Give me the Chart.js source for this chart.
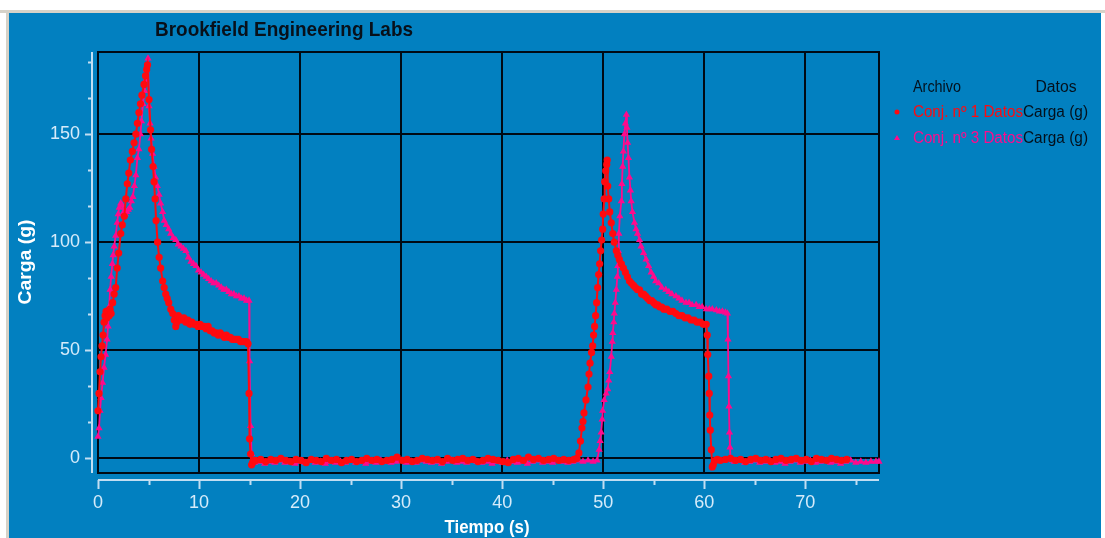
<!DOCTYPE html>
<html lang="es">
<head>
<meta charset="UTF-8">
<title>Brookfield Engineering Labs</title>
<style>
  html, body { margin: 0; padding: 0; background: #ffffff; }
  canvas { display: block; }
</style>
</head>
<body>
<canvas id="cargaChart" width="1105" height="538"></canvas>
<script src="https://cdn.jsdelivr.net/npm/chart.js"></script>
<script>
// Conj. nº 1 - tiempo (s) y carga (g)
const tiempo1 = [
  0.0, 0.1, 0.2, 0.3, 0.4, 0.5, 0.6, 0.7, 0.8, 0.9, 1.0, 1.1, 1.2, 1.3, 1.45, 1.6, 1.75, 1.9, 2.05, 2.25,
  2.4, 2.6, 2.75, 2.9, 3.05, 3.2, 3.4, 3.57, 3.75, 3.9, 4.05, 4.2, 4.35, 4.55, 4.7, 4.82, 4.9, 5.05, 5.2, 5.3,
  5.45, 5.55, 5.65, 5.75, 5.9, 6.05, 6.2, 6.4, 6.55, 6.7, 6.85, 7.0, 7.2, 7.4, 7.55, 7.7, 7.8, 7.95, 8.1, 8.3,
  8.5, 8.7, 8.9, 9.1, 9.3, 9.5, 9.7, 9.9, 10.1, 10.3, 10.5, 10.7, 10.9, 11.1, 11.3, 11.5, 11.7, 11.9, 12.1, 12.3,
  12.5, 12.7, 12.9, 13.1, 13.3, 13.5, 13.7, 13.9, 14.1, 14.3, 14.5, 14.7, 14.85, 14.95, 15.0, 15.1, 15.2, 15.3, 15.45,
  15.6, 16.1, 16.6, 17.1, 17.6, 18.1, 18.6, 19.1, 19.6, 20.1, 20.6, 21.1, 21.6, 22.1, 22.6, 23.1, 23.6, 24.1, 24.6, 25.1,
  25.6, 26.1, 26.6, 27.1, 27.6, 28.1, 28.6, 29.1, 29.6, 30.1, 30.6, 31.1, 31.6, 32.1, 32.6, 33.1, 33.6, 34.1, 34.6, 35.1,
  35.6, 36.1, 36.6, 37.1, 37.6, 38.1, 38.6, 39.1, 39.6, 40.1, 40.6, 41.1, 41.6, 42.1, 42.6, 43.1, 43.6, 44.1, 44.6, 45.1,
  45.6, 46.1, 46.6, 47.1, 47.4, 47.6, 47.75, 47.9, 48.0, 48.1, 48.3, 48.5, 48.6, 48.7, 48.85, 48.96, 49.05, 49.15, 49.25, 49.35,
  49.45, 49.55, 49.65, 49.75, 49.85, 49.95, 50.0, 50.1, 50.15, 50.25, 50.35, 50.4, 50.45, 50.55, 50.65, 50.8, 50.95, 51.1, 51.3, 51.45,
  51.6, 51.8, 52.0, 52.2, 52.4, 52.6, 52.8, 53.0, 53.2, 53.4, 53.6, 53.8, 54.0, 54.2, 54.4, 54.6, 54.8, 55.0, 55.2, 55.4,
  55.6, 55.8, 56.0, 56.3, 56.6, 56.9, 57.2, 57.5, 57.8, 58.1, 58.4, 58.7, 59.0, 59.3, 59.6, 59.9, 60.2, 60.3, 60.35, 60.45,
  60.5, 60.55, 60.6, 60.7, 60.8, 60.9, 61.1, 61.3,
  61.6, 62.1, 62.6, 63.1, 63.6, 64.1, 64.6, 65.1, 65.6, 66.1, 66.6, 67.1, 67.6, 68.1, 68.6, 69.1, 69.6, 70.1, 70.6, 71.1,
  71.6, 72.1, 72.6, 73.1, 73.6, 74.1
];
const carga1 = [
  22, 30, 40, 47, 52, 57, 63, 66, 68, 65, 68, 66, 69, 67, 72, 76, 79, 88, 95, 104,
  108, 112, 120, 127, 132, 138, 142, 146, 150, 155, 160, 164, 168, 173, 177, 180, 182, 166, 152, 143,
  135, 128, 120, 110, 100, 93, 88, 82, 79, 76, 74, 72, 69, 67, 64, 61, 63, 66, 65, 64,
  65, 63, 64, 62, 63, 62, 62, 61, 62, 61, 61, 60, 61, 59, 59, 58, 58, 57, 58, 57,
  56, 57, 56, 56, 55, 55, 55, 55, 54, 54, 54, 54, 53, 30, 9, 2, -3, -2, -1,
  -1, -0.5, -1.5, -0.5, -1, 0, -1, -1.5, -0.5, -1, -2, -0.5, -1, -1.5, 0, -1, -0.5, -2, -1, -0.5,
  -1.5, -1, 0, -1, -0.5, -1.5, -1, -0.5, 0.5, -1, -0.5, -1.5, -1, 0, -0.5, -1, -0.5, -1.5, 0, -1,
  -0.5, 0, -1, -0.5, -1.5, -1, 0, -0.5, -1, -1.5, -2, -0.5, 0, -1, 0.5, -0.5, 0, -1, -0.5, 0,
  -1, -0.5, -1, -0.5, 0, 2.5, 8, 14, 17, 21, 27, 33, 39, 44, 49, 52, 57, 61, 66, 72,
  79, 85, 90, 96, 101, 106, 113, 120, 128, 133, 136, 138, 126, 120, 114, 109, 104, 100, 96, 94,
  92, 90, 88, 86, 84, 82, 81, 80, 79, 78, 78, 76, 76, 75, 74, 73, 73, 72, 71, 71,
  70, 70, 69, 69, 68, 68, 67, 66, 66, 65, 65, 64, 64, 63, 63, 62, 62, 57, 48, 38,
  30, 20, 13, 4, -4, -3, -1, -0.5,
  -1, -0.5, 0, -1, -0.5, -1.5, -0.5, 0, -1, -0.5, -1.5, -0.5, 0, -1, -0.5, 0, -1, -0.5, -1.5, 0,
  -0.5, -1, 0, -0.5, -1, -0.5
];

// Conj. nº 3 - tiempo (s) y carga (g)
const tiempo3 = [
  0.0, 0.1, 0.2, 0.3, 0.45, 0.6, 0.75, 0.9, 1.0, 1.1, 1.2, 1.3, 1.42, 1.5, 1.6, 1.75, 1.9, 2.0, 2.1, 2.25,
  2.4, 2.55, 2.7, 2.85, 3.0, 3.15, 3.3, 3.45, 3.6, 3.75, 3.9, 4.05, 4.2, 4.3, 4.45, 4.6, 4.72, 4.82, 4.95, 5.05,
  5.15, 5.25, 5.4, 5.55, 5.7, 5.87, 6.05, 6.2, 6.4, 6.55, 6.75, 7.0, 7.2, 7.45, 7.7, 7.95, 8.2, 8.45, 8.7, 8.95,
  9.2, 9.45, 9.7, 9.95, 10.2, 10.45, 10.7, 10.95, 11.2, 11.45, 11.7, 11.95, 12.2, 12.45, 12.7, 12.95, 13.2, 13.45, 13.7, 13.95,
  14.2, 14.45, 14.7, 14.95, 15.0, 15.1, 15.2, 15.3,
  15.5, 16.0, 16.5, 17.0, 17.5, 18.0, 18.5, 19.0, 19.5, 20.0, 20.5, 21.0, 21.5, 22.0, 22.5, 23.0, 23.5, 24.0, 24.5, 25.0,
  25.5, 26.0, 26.5, 27.0, 27.5, 28.0, 28.5, 29.0, 29.5, 30.0, 30.5, 31.0, 31.5, 32.0, 32.5, 33.0, 33.5, 34.0, 34.5, 35.0,
  35.5, 36.0, 36.5, 37.0, 37.5, 38.0, 38.5, 39.0, 39.5, 40.0, 40.5, 41.0, 41.5, 42.0, 42.5, 43.0, 43.5, 44.0, 44.5, 45.0,
  45.5, 46.0, 46.5, 47.0, 47.5, 48.0, 48.5, 49.0, 49.4,
  49.6, 49.7, 49.8, 49.9, 49.95, 50.1, 50.3, 50.45, 50.55, 50.65, 50.8, 50.9, 50.95, 51.05, 51.1, 51.2, 51.3, 51.4, 51.45, 51.5,
  51.55, 51.65, 51.8, 51.85, 51.93, 52.0, 52.1, 52.2, 52.3, 52.35, 52.42, 52.5, 52.6, 52.7, 52.77, 52.9, 53.1, 53.25, 53.4, 53.6,
  53.75, 54.0, 54.25, 54.5, 54.75, 55.0, 55.2, 55.5, 55.8, 56.2, 56.5, 56.8, 57.2, 57.5, 57.8, 58.2, 58.5, 58.8, 59.2, 59.5,
  59.8, 60.2, 60.5, 60.8, 61.2, 61.5, 61.8, 62.1, 62.3, 62.35, 62.4, 62.45, 62.5, 62.55, 62.6, 62.8,
  63.0, 63.5, 64.0, 64.5, 65.0, 65.5, 66.0, 66.5, 67.0, 67.5, 68.0, 68.5, 69.0, 69.5, 70.0, 70.5, 71.0, 71.5, 72.0, 72.5,
  73.0, 73.5, 74.0, 74.5, 75.0, 75.5, 76.0, 76.5, 77.0, 77.3
];
const carga3 = [
  10, 14, 22, 28, 35, 42, 48, 55, 61, 70, 78, 84, 90, 94, 98, 103, 109, 113, 116, 118,
  117, 114, 113, 114, 115, 116, 119, 121, 126, 131, 139, 143, 150, 156, 164, 170, 175, 180, 185, 163,
  155, 148, 141, 135, 130, 126, 122, 118, 114, 110, 108, 106, 104, 102, 101, 99, 98, 97, 96, 93,
  91, 90, 89, 87, 86, 85, 84, 83, 82, 81, 81, 80, 79, 78, 78, 77, 76, 76, 75, 75,
  74, 74, 73, 73, 45, 15, 2, -1.5,
  -2, -1.5, -2.5, -1.5, -2, -1, -2, -1.5, -2.5, -1.5, -2, -1, -2, -1.5, -2.5, -1.5, -2, -1.5, -2, -1,
  -2, -1.5, -2.5, -1.5, -2, -1, -1.5, -2, -1.5, -1, -2, -1.5, -2, -1, -1.5, -2, -1.5, -2.5, -1.5, -1,
  -2, -1.5, -2, -1, -1.5, -2, -1.5, -2.5, -1.5, -2, -1, -1.5, -2, -1.5, -2.5, -1.5, -1, -2, -1.5, -2,
  -1, -1.5, -2, -1.5, -1, -1.5, -1, -1.5, -1,
  4, 8, 12, 18, 22, 27, 30, 32, 36, 40, 47, 54, 58, 63, 67, 72, 78, 84, 89, 96,
  104, 112, 119, 127, 135, 142, 150, 155, 159, 153, 146, 139, 130, 124, 119, 114, 109, 106, 104, 101,
  98, 95, 92, 89, 86, 84, 82, 81, 79, 78, 77, 76, 75, 74, 73, 72, 72, 71, 71, 70,
  70, 69, 69, 69, 68.5, 68, 68, 67.5, 67, 55, 38, 24, 12, 5, 0, -1,
  -1.5, -1, -2, -1.5, -1, -2, -1.5, -1, -2, -1.5, -2.5, -1.5, -1, -2, -1.5, -1, -2, -1.5, -1, -2,
  -1.5, -2.5, -1.5, -1, -2, -1.5, -2, -1.5, -1.5, -1.5
];

// marcas de los ejes
const ticksTiempo = [0, 10, 20, 30, 40, 50, 60, 70];
const ticksCarga = [0, 50, 100, 150];

const rojo = '#ff0a0f';
const rosa = '#ff0a8c';
const textoEje = '#d6ebfa';
const lineaEje = '#c2def2';
const fuenteFina = "'Liberation Sans Narrow', 'Liberation Sans', Arial, sans-serif";

function puntos(t, c) {
  return t.map((x, i) => ({ x: x, y: c[i] }));
}

// texto ajustado a un ancho dado (la fuente original es estrecha)
function textoAjustado(ctx, txt, x, y, ancho, font, color, align) {
  ctx.save();
  ctx.font = font;
  ctx.fillStyle = color;
  ctx.textBaseline = 'alphabetic';
  const w = ctx.measureText(txt).width;
  const k = ancho / w;
  ctx.translate(x, y);
  ctx.scale(k, 1);
  ctx.textAlign = align || 'center';
  ctx.fillText(txt, 0, 0);
  ctx.restore();
}

const fondo = {
  id: 'fondo',
  beforeDraw(chart) {
    const ctx = chart.ctx;
    ctx.save();
    ctx.fillStyle = '#ffffff';
    ctx.fillRect(0, 0, chart.width, chart.height);
    ctx.fillStyle = '#d6d2c8';
    ctx.fillRect(0, 10, chart.width, 3);
    ctx.fillRect(6, 10, 3, chart.height);
    ctx.fillStyle = '#0280c0';
    ctx.fillRect(9, 13, 1092, chart.height - 13);
    ctx.restore();
  }
};

const marco = {
  id: 'marco',
  beforeDatasetsDraw(chart) {
    const { ctx, chartArea: a } = chart;
    ctx.save();
    ctx.strokeStyle = '#000a14';
    ctx.lineWidth = 2;
    ctx.strokeRect(a.left, a.top, a.right - a.left, a.bottom - a.top);
    ctx.fillStyle = '#000a14';
    ctx.fillRect(a.left - 1, a.top, 2, a.bottom - a.top);
    ctx.restore();
  }
};

const ejes = {
  id: 'ejes',
  afterDraw(chart) {
    const { ctx, chartArea: a, scales: { x, y } } = chart;
    ctx.save();
    ctx.strokeStyle = lineaEje;
    ctx.lineWidth = 2;
    // eje Y separado del marco
    const ex = a.left - 6;
    ctx.beginPath();
    ctx.moveTo(ex, a.top);
    ctx.lineTo(ex, a.bottom);
    for (let v = 0; v <= 190; v += 50 / 3) {
      const py = Math.round(y.getPixelForValue(v)) + 0.5;
      const mayor = Math.abs(v / 50 - Math.round(v / 50)) < 0.01;
      ctx.moveTo(ex, py);
      ctx.lineTo(ex - (mayor ? 7 : 4), py);
    }
    ctx.stroke();
    // eje X separado del marco
    const ey = a.bottom + 7;
    ctx.beginPath();
    ctx.moveTo(a.left, ey);
    ctx.lineTo(a.right, ey);
    for (let v = 0; v <= 77; v += 5) {
      const px = Math.round(x.getPixelForValue(v)) + 0.5;
      ctx.moveTo(px, ey);
      ctx.lineTo(px, ey + (v % 10 === 0 ? 9 : 5));
    }
    ctx.stroke();
    ctx.restore();

    // títulos
    textoAjustado(ctx, 'Brookfield Engineering Labs', 284, 36, 258, "bold 21px 'Liberation Sans', Arial, sans-serif", '#08101a');
    textoAjustado(ctx, 'Tiempo (s)', 487, 533, 85, "bold 19px 'Liberation Sans', Arial, sans-serif", '#ffffff');
    ctx.save();
    ctx.translate(31, 262);
    ctx.rotate(-Math.PI / 2);
    textoAjustado(ctx, 'Carga (g)', 0, 0, 85, "bold 19px 'Liberation Sans', Arial, sans-serif", '#ffffff');
    ctx.restore();

    // leyenda en forma de tabla
    const oscuro = '#04101c';
    const f = "16px 'Liberation Sans', Arial, sans-serif";
    textoAjustado(ctx, 'Archivo', 913, 92, 48, f, oscuro, 'left');
    textoAjustado(ctx, 'Datos', 1056, 92, 41, f, oscuro);
    chart.data.datasets.forEach((ds, i) => {
      const yy = 117 + i * 26;
      ctx.save();
      ctx.fillStyle = ds.borderColor;
      if (ds.pointStyle === 'triangle') {
        ctx.beginPath();
        ctx.moveTo(897, yy - 8);
        ctx.lineTo(900, yy - 3);
        ctx.lineTo(894, yy - 3);
        ctx.closePath();
        ctx.fill();
      } else {
        ctx.beginPath();
        ctx.arc(897, yy - 5, 2.5, 0, Math.PI * 2);
        ctx.fill();
      }
      ctx.restore();
      textoAjustado(ctx, ds.label, 913, yy, 110, f, ds.borderColor, 'left');
      textoAjustado(ctx, 'Carga (g)', 1023, yy, 65, f, oscuro, 'left');
    });
  }
};

new Chart(document.getElementById('cargaChart'), {
  type: 'scatter',
  data: {
    datasets: [
      {
        label: 'Conj. nº 1 Datos',
        data: puntos(tiempo1, carga1),
        showLine: true,
        borderColor: rojo,
        backgroundColor: rojo,
        borderWidth: 2,
        pointStyle: 'circle',
        pointRadius: 3.6,
        pointBorderWidth: 0,
        clip: 4
      },
      {
        label: 'Conj. nº 3 Datos',
        data: puntos(tiempo3, carga3),
        showLine: true,
        borderColor: rosa,
        backgroundColor: rosa,
        borderWidth: 1.8,
        pointStyle: 'triangle',
        pointRadius: 4.2,
        pointBorderWidth: 0,
        clip: 4
      }
    ]
  },
  options: {
    responsive: false,
    animation: false,
    devicePixelRatio: 1,
    layout: { padding: { left: 0, right: 226, top: 52, bottom: 0 } },
    plugins: {
      legend: { display: false },
      tooltip: { enabled: false },
      title: { display: false }
    },
    scales: {
      x: {
        type: 'linear',
        min: 0,
        max: 77.3,
        afterBuildTicks: s => { s.ticks = ticksTiempo.map(v => ({ value: v })); },
        afterFit: s => { s.height = 65; },
        grid: { color: '#000a14', lineWidth: 2, drawTicks: false },
        border: { display: false },
        ticks: { color: textoEje, font: { family: fuenteFina, size: 18 }, padding: 19, maxRotation: 0, autoSkip: false }
      },
      y: {
        type: 'linear',
        min: -6.8,
        max: 188,
        afterBuildTicks: s => { s.ticks = ticksCarga.map(v => ({ value: v })); },
        afterFit: s => { s.width = 98; },
        grid: { color: '#000a14', lineWidth: 2, drawTicks: false },
        border: { display: false },
        ticks: { color: textoEje, font: { family: fuenteFina, size: 18 }, padding: 18 }
      }
    }
  },
  plugins: [fondo, marco, ejes]
});
</script>
</body>
</html>
